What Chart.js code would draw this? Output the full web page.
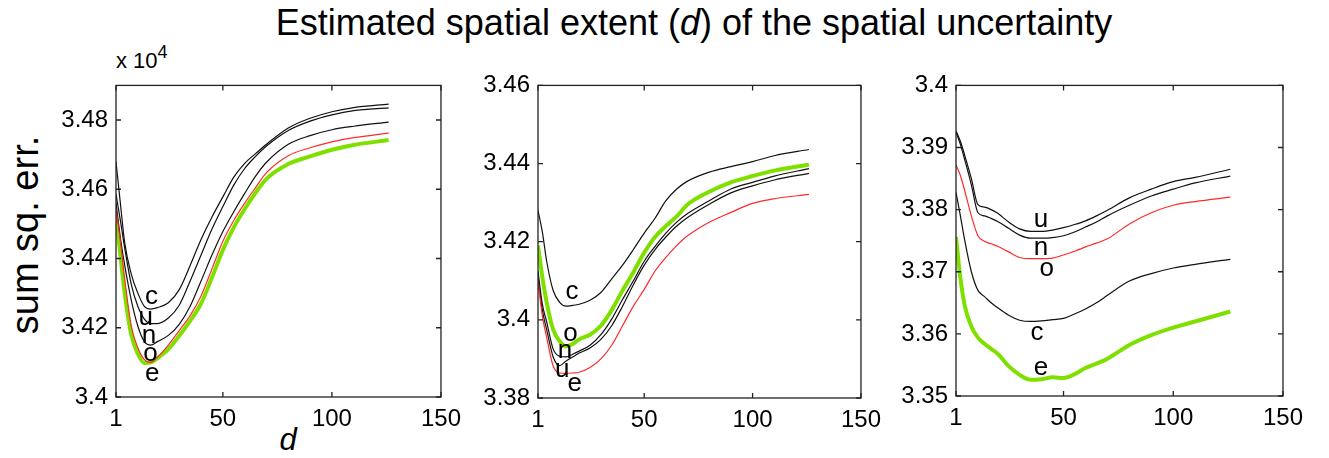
<!DOCTYPE html>
<html>
<head>
<meta charset="utf-8">
<script src="https://cdn.jsdelivr.net/npm/chart.js@4.4.1/dist/chart.umd.min.js"></script>
<style>
  body { margin: 0; width: 1329px; height: 458px; background: #fff; position: relative; overflow: hidden;
         font-family: "Liberation Sans", Arial, Helvetica, sans-serif; color: #000; }
  .panel { position: absolute; }
  #title { position: absolute; left: 0; width: 1388px; top: 2px; text-align: center; font-size: 36px; }
  #ylab { position: absolute; left: 25px; top: 235px; font-size: 38px; white-space: nowrap;
          transform: translate(-50%, -50%) rotate(-90deg); }
  #expo { position: absolute; left: 116px; top: 44px; font-size: 22px; }
  #expo sup { font-size: 18px; position: relative; top: -2px; }
  #xlab { position: absolute; left: 288px; top: 422px; font-size: 31px; font-style: italic; transform: translateX(-50%); }
</style>
</head>
<body>
<div id="title">Estimated spatial extent (<i>d</i>) of the spatial uncertainty</div>
<div id="ylab">sum sq. err.</div>
<div id="expo">x 10<sup>4</sup></div>
<div id="xlab">d</div>
<div class="panel" style="left:56px;top:63px;width:413px;height:374px"><canvas id="c1" width="413" height="374"></canvas></div>
<div class="panel" style="left:478px;top:63px;width:411px;height:375px"><canvas id="c2" width="411" height="375"></canvas></div>
<div class="panel" style="left:896px;top:63px;width:415px;height:373px"><canvas id="c3" width="415" height="373"></canvas></div>
<script>
const D = [1, 3, 5, 8, 11, 14, 17, 20, 25, 30, 35, 40, 45, 50, 55, 60, 65, 70, 80, 90, 100, 110, 126];
const X_TICKS = [1, 50, 100, 150];

// panel 1 (x 10^4)
const P1_C = [3.468, 3.456, 3.4445, 3.4355, 3.430, 3.4262, 3.4254, 3.4258, 3.4272, 3.431, 3.438, 3.4455, 3.452, 3.4578, 3.4635, 3.4675, 3.4703, 3.473, 3.4777, 3.4805, 3.4824, 3.4836, 3.4846];
const P1_U = [3.4586, 3.451, 3.443, 3.4325, 3.4262, 3.4225, 3.4212, 3.4212, 3.4228, 3.4265, 3.4335, 3.441, 3.4485, 3.455, 3.4612, 3.466, 3.4695, 3.4725, 3.477, 3.4797, 3.4815, 3.4827, 3.4835];
const P1_N = [3.456, 3.446, 3.438, 3.428, 3.4205, 3.416, 3.415, 3.416, 3.4178, 3.421, 3.4262, 3.4335, 3.441, 3.4478, 3.4535, 3.4588, 3.4638, 3.4678, 3.473, 3.4755, 3.4772, 3.4782, 3.4794];
const P1_RED = [3.4544, 3.445, 3.434, 3.4205, 3.4142, 3.4108, 3.41, 3.4115, 3.415, 3.4192, 3.4235, 3.4292, 3.437, 3.445, 3.451, 3.456, 3.4605, 3.4648, 3.4697, 3.472, 3.4737, 3.4749, 3.4762];
const P1_GREEN = [3.4526, 3.441, 3.43, 3.418, 3.4125, 3.4098, 3.41, 3.4112, 3.4138, 3.4177, 3.422, 3.427, 3.4345, 3.4425, 3.449, 3.4543, 3.459, 3.463, 3.4673, 3.4695, 3.4714, 3.4728, 3.4742];
const P1_YTICKS = [3.40, 3.42, 3.44, 3.46, 3.48];
const P1_LABELS = ["c", "u", "n", "o", "e"];
const P1_LABEL_X = [17.3, 14.6, 16.1, 16.8, 17.6];
const P1_LABEL_Y = [3.4288, 3.4228, 3.4177, 3.4126, 3.4068];

// panel 2
const P2_C = [3.428, 3.4225, 3.415, 3.4075, 3.4045, 3.4035, 3.4037, 3.404, 3.405, 3.407, 3.4105, 3.414, 3.418, 3.4222, 3.426, 3.4305, 3.4335, 3.4355, 3.4378, 3.4392, 3.4405, 3.442, 3.4436];
const P2_N = [3.4125, 3.404, 3.3995, 3.3925, 3.3907, 3.3905, 3.3912, 3.392, 3.3935, 3.3962, 3.4002, 3.4052, 3.41, 3.415, 3.4188, 3.4222, 3.425, 3.4272, 3.4305, 3.4335, 3.4352, 3.4368, 3.4387];
const P2_U = [3.4105, 3.4025, 3.3975, 3.3905, 3.3883, 3.3895, 3.3905, 3.3915, 3.3928, 3.395, 3.3985, 3.4035, 3.409, 3.414, 3.418, 3.4212, 3.424, 3.4262, 3.4296, 3.4325, 3.4343, 3.4358, 3.4375];
const P2_RED = [3.41, 3.401, 3.3955, 3.3882, 3.3864, 3.3863, 3.3864, 3.3866, 3.3878, 3.39, 3.3935, 3.3985, 3.4035, 3.4078, 3.4125, 3.416, 3.419, 3.4215, 3.425, 3.4275, 3.4298, 3.431, 3.4321];
const P2_GREEN = [3.419, 3.411, 3.4045, 3.3975, 3.3945, 3.3932, 3.3938, 3.395, 3.3962, 3.3985, 3.4025, 3.4075, 3.4122, 3.4172, 3.4212, 3.424, 3.4265, 3.4295, 3.4328, 3.4352, 3.4368, 3.4382, 3.4397];
const P2_YTICKS = [3.38, 3.40, 3.42, 3.44, 3.46];
const P2_LABELS = ["c", "o", "n", "u", "e"];
const P2_LABEL_X = [16.7, 16, 13.4, 12.2, 17.9];
const P2_LABEL_Y = [3.4071, 3.3965, 3.3922, 3.3873, 3.3837];

// panel 3
const P3_U = [3.3927, 3.391, 3.3887, 3.385, 3.3808, 3.3804, 3.38, 3.3794, 3.378, 3.3769, 3.3765, 3.3765, 3.3767, 3.3771, 3.3776, 3.3782, 3.379, 3.3799, 3.3819, 3.3833, 3.3845, 3.3852, 3.3865];
const P3_N = [3.3925, 3.3905, 3.388, 3.384, 3.3795, 3.379, 3.3786, 3.3781, 3.377, 3.3759, 3.3754, 3.3754, 3.3755, 3.3758, 3.3764, 3.3772, 3.378, 3.379, 3.3807, 3.3822, 3.3833, 3.3843, 3.3854];
const P3_RED = [3.3872, 3.3855, 3.383, 3.379, 3.3758, 3.3749, 3.3745, 3.3741, 3.3732, 3.3723, 3.3721, 3.3721, 3.3722, 3.3727, 3.3733, 3.374, 3.3746, 3.3753, 3.3777, 3.3795, 3.3807, 3.3813, 3.382];
const P3_C = [3.3828, 3.379, 3.375, 3.37, 3.367, 3.366, 3.365, 3.3642, 3.363, 3.3622, 3.362, 3.3621, 3.3623, 3.3625, 3.3632, 3.364, 3.365, 3.3662, 3.3685, 3.3697, 3.3706, 3.3712, 3.372];
const P3_GREEN = [3.3756, 3.369, 3.3645, 3.3612, 3.3594, 3.3584, 3.3576, 3.3568, 3.3548, 3.3534, 3.3526, 3.3527, 3.353, 3.3529, 3.3535, 3.3545, 3.3552, 3.356, 3.3582, 3.3598, 3.361, 3.362, 3.3636];
const P3_YTICKS = [3.35, 3.36, 3.37, 3.38, 3.39, 3.40];
const P3_LABELS = ["u", "n", "o", "c", "e"];
const P3_LABEL_X = [39.7, 39.7, 42.3, 37.9, 39.7];
const P3_LABEL_Y = [3.3783, 3.3739, 3.3704, 3.3602, 3.3546];

const BLACK = "#111111";
const RED = "#ff2a2a";
const GREEN = "#7fe000";
const FONT = "'Liberation Sans', Arial, Helvetica, sans-serif";

const framePlugin = {
  id: "frame",
  afterDraw(chart, args, opts) {
    const { ctx, chartArea: a, scales } = chart;
    ctx.save();
    ctx.strokeStyle = "#222";
    ctx.lineWidth = 1.3;
    ctx.strokeRect(a.left, a.top, a.right - a.left, a.bottom - a.top);
    const tl = 5;
    ctx.beginPath();
    scales.x.ticks.forEach((t) => {
      const px = scales.x.getPixelForValue(t.value);
      ctx.moveTo(px, a.bottom); ctx.lineTo(px, a.bottom - tl);
      ctx.moveTo(px, a.top); ctx.lineTo(px, a.top + tl);
    });
    scales.y.ticks.forEach((t) => {
      const py = scales.y.getPixelForValue(t.value);
      ctx.moveTo(a.left, py); ctx.lineTo(a.left + tl, py);
      ctx.moveTo(a.right, py); ctx.lineTo(a.right - tl, py);
    });
    ctx.stroke();
    // curve letters
    ctx.fillStyle = "#000";
    ctx.font = "26px " + FONT;
    ctx.textAlign = "center";
    ctx.textBaseline = "middle";
    opts.text.forEach((s, i) => {
      ctx.fillText(s, scales.x.getPixelForValue(opts.x[i]), scales.y.getPixelForValue(opts.y[i]));
    });
    ctx.restore();
  },
};

function line(values, color, width) {
  return {
    data: values.map((v, i) => ({ x: D[i], y: v })),
    borderColor: color,
    borderWidth: width,
    pointRadius: 0,
    cubicInterpolationMode: "monotone",
    fill: false,
  };
}

function makePanel(id, series, yMin, yMax, yTicks, labels, labelX, labelY) {
  new Chart(document.getElementById(id), {
    type: "line",
    data: { datasets: series },
    plugins: [framePlugin],
    options: {
      responsive: false,
      animation: false,
      devicePixelRatio: 1,
      layout: { padding: { top: 10, right: 20, left: 0, bottom: 0 } },
      plugins: {
        legend: { display: false },
        tooltip: { enabled: false },
        frame: { text: labels, x: labelX, y: labelY },
      },
      scales: {
        x: {
          type: "linear",
          min: 1,
          max: 150,
          afterBuildTicks: (s) => { s.ticks = X_TICKS.map((v) => ({ value: v })); },
          afterFit: (s) => { s.height = 40; },
          grid: { display: false, drawTicks: false },
          border: { display: false },
          ticks: { color: "#000", font: { size: 24, family: FONT }, padding: 8, maxRotation: 0, autoSkip: false },
        },
        y: {
          type: "linear",
          min: yMin,
          max: yMax,
          afterBuildTicks: (s) => { s.ticks = yTicks.map((v) => ({ value: v })); },
          afterFit: (s) => { s.width = 60; },
          grid: { display: false, drawTicks: false },
          border: { display: false },
          ticks: {
            color: "#000",
            font: { size: 24, family: FONT },
            padding: 8,
            callback: (v) => String(Number(v.toFixed(2))),
          },
        },
      },
    },
  });
}

makePanel("c1", [
  line(P1_RED, RED, 1.2),
  line(P1_C, BLACK, 1.2),
  line(P1_U, BLACK, 1.2),
  line(P1_N, BLACK, 1.2),
  line(P1_GREEN, GREEN, 4),
], 3.40, 3.49, P1_YTICKS, P1_LABELS, P1_LABEL_X, P1_LABEL_Y);

makePanel("c2", [
  line(P2_RED, RED, 1.2),
  line(P2_C, BLACK, 1.2),
  line(P2_N, BLACK, 1.2),
  line(P2_U, BLACK, 1.2),
  line(P2_GREEN, GREEN, 4),
], 3.38, 3.46, P2_YTICKS, P2_LABELS, P2_LABEL_X, P2_LABEL_Y);

makePanel("c3", [
  line(P3_RED, RED, 1.2),
  line(P3_U, BLACK, 1.2),
  line(P3_N, BLACK, 1.2),
  line(P3_C, BLACK, 1.2),
  line(P3_GREEN, GREEN, 4),
], 3.35, 3.40, P3_YTICKS, P3_LABELS, P3_LABEL_X, P3_LABEL_Y);
</script>
</body>
</html>
